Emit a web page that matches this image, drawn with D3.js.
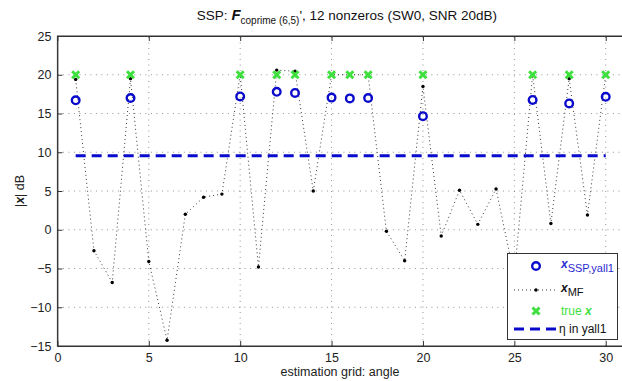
<!DOCTYPE html>
<html>
<head>
<meta charset="utf-8">
<script src="https://cdn.jsdelivr.net/npm/d3@7"></script>
<style>
  body { margin: 0; background: #fff; }
  svg { font-family: "Liberation Sans", Arial, sans-serif; }
  .axis path, .axis line { stroke: #333; }
  .axis text { font-size: 12px; fill: #222; }
</style>
</head>
<body>
<svg id="chart" width="622" height="381"></svg>
<script>
// grid index 1..30
var grid = d3.range(1, 31);
var mfValues = [19.4, -2.7, -6.8, 19.5, -4.1, -14.25, 2.0, 4.2, 4.6, 20.0,
                -4.8, 20.6, 20.45, 5.0, 20.0, 20.0, 20.0, -0.2, -4.0, 18.5,
                -0.8, 5.1, 0.7, 5.25, -6.0, 20.0, 0.8, 19.5, 1.9, 20.0];
var ssp = [1, 4, 10, 12, 13, 15, 16, 17, 20, 26, 28, 30];
var sspValues = [16.7, 17.0, 17.2, 17.8, 17.65, 17.05, 16.95, 17.0, 14.65, 16.75, 16.3, 17.15];
var trueX = [1, 4, 10, 12, 13, 15, 16, 17, 20, 26, 28, 30];
var trueValues = [20, 20, 20, 20, 20, 20, 20, 20, 20, 20, 20, 20];
var eta = 9.55;
var xTicks = [0, 5, 10, 15, 20, 25, 30];
var yTicks = [-15, -10, -5, 0, 5, 10, 15, 20, 25];

var margin = {left: 57.4, top: 36, right: -2, bottom: 35},
    W = 622, H = 381;

var svg = d3.select("#chart");
var x = d3.scaleLinear().domain([0, 31]).range([margin.left, W - margin.right]);
var y = d3.scaleLinear().domain([-15, 25]).range([H - margin.bottom, margin.top]);

var blue = "#0a0acc", green = "#3ee03e";

// grid
var g = svg.append("g");
g.selectAll(".vg").data(xTicks.filter(function(d) { return d > 0; })).enter().append("line")
    .attr("x1", function(d) { return x(d); }).attr("x2", function(d) { return x(d); })
    .attr("y1", y(-15)).attr("y2", y(25))
    .attr("stroke", "#777").attr("stroke-width", 0.8).attr("stroke-dasharray", "1,4.5");
g.selectAll(".hg").data(yTicks.filter(function(d) { return d > -15 && d < 25; })).enter().append("line")
    .attr("x1", x(0)).attr("x2", x(31))
    .attr("y1", function(d) { return y(d); }).attr("y2", function(d) { return y(d); })
    .attr("stroke", "#777").attr("stroke-width", 0.8).attr("stroke-dasharray", "1,4.5");

// axes, ticks inward like matlab
svg.append("g").attr("class", "axis").attr("transform", "translate(0," + y(-15) + ")")
    .call(d3.axisBottom(x).tickValues(xTicks).tickSize(-5).tickPadding(7).tickSizeOuter(0));
svg.append("g").attr("class", "axis").attr("transform", "translate(" + x(0) + ",0)")
    .call(d3.axisLeft(y).tickValues(yTicks).tickSize(-5).tickPadding(6).tickSizeOuter(0)
      .tickFormat(function(d) { return d < 0 ? "\u2212" + Math.abs(d) : d; }));
svg.append("g").attr("class", "axis").attr("transform", "translate(0," + y(25) + ")")
    .call(d3.axisTop(x).tickValues(xTicks).tickSize(-5).tickFormat("").tickSizeOuter(0));
svg.selectAll(".axis text").style("font-size", "12.5px");

// mf dotted line
var mf = grid.map(function(d, i) { return {x: d, v: mfValues[i]}; });
svg.append("path").datum(mf)
    .attr("fill", "none").attr("stroke", "#222").attr("stroke-width", 0.9)
    .attr("stroke-dasharray", "1,3")
    .attr("d", d3.line().x(function(d) { return x(d.x); }).y(function(d) { return y(d.v); }));
svg.selectAll(".mfdot").data(mf).enter().append("circle")
    .attr("cx", function(d) { return x(d.x); }).attr("cy", function(d) { return y(d.v); })
    .attr("r", 1.7).attr("fill", "#000");

// eta threshold
svg.append("line")
    .attr("x1", x(1)).attr("x2", x(30)).attr("y1", y(eta)).attr("y2", y(eta))
    .attr("stroke", blue).attr("stroke-width", 3).attr("stroke-dasharray", "10,6");

// true x markers
svg.selectAll(".tx").data(trueX).enter().append("g")
    .attr("transform", function(d, i) { return "translate(" + x(d) + "," + y(trueValues[i]) + ")"; })
    .each(function() {
      var s = d3.select(this);
      s.append("line").attr("x1", -3.5).attr("y1", -3.5).attr("x2", 3.5).attr("y2", 3.5);
      s.append("line").attr("x1", -3.5).attr("y1", 3.5).attr("x2", 3.5).attr("y2", -3.5);
      s.selectAll("line").attr("stroke", green).attr("stroke-width", 3);
    });

// ssp circles
svg.selectAll(".ssp").data(ssp).enter().append("circle")
    .attr("cx", function(d) { return x(d); }).attr("cy", function(d, i) { return y(sspValues[i]); })
    .attr("r", 3.8).attr("fill", "none").attr("stroke", blue).attr("stroke-width", 2.4);

// frame
svg.append("rect").attr("x", x(0)).attr("y", y(25))
    .attr("width", x(31) - x(0)).attr("height", y(-15) - y(25))
    .attr("fill", "none").attr("stroke", "#333").attr("stroke-width", 1);

// title
var title = svg.append("text").attr("x", 347).attr("y", 20).attr("text-anchor", "middle")
    .style("font-size", "13.5px").attr("fill", "#111");
title.append("tspan").text("SSP: ");
title.append("tspan").text("F").style("font-weight", "bold").style("font-style", "italic").style("font-size", "15px");
title.append("tspan").text("coprime (6,5)").attr("dy", 4).style("font-size", "10px");
title.append("tspan").text("'").attr("dy", -4);
title.append("tspan").text(", 12 nonzeros (SW0, SNR 20dB)");

// axis labels
svg.append("text").attr("x", 340).attr("y", 376).attr("text-anchor", "middle")
    .style("font-size", "12.5px").attr("fill", "#222").text("estimation grid: angle");
var yl = svg.append("text").attr("transform", "translate(24," + y(5) + ") rotate(-90)")
    .attr("text-anchor", "middle").style("font-size", "12.5px").attr("fill", "#222");
yl.append("tspan").text("|");
yl.append("tspan").text("x").style("font-weight", "bold").style("font-style", "italic");
yl.append("tspan").text("| dB");

// legend
var lg = svg.append("g");
lg.append("rect").attr("x", 507.5).attr("y", 253.5).attr("width", 110).attr("height", 86)
    .attr("fill", "#fff").attr("stroke", "#333").attr("stroke-width", 1);
var ly = [266, 290, 311, 329], mx = 536, tx = 561;
lg.append("circle").attr("cx", mx).attr("cy", ly[0]).attr("r", 3.8)
    .attr("fill", "none").attr("stroke", blue).attr("stroke-width", 2.4);
lg.append("line").attr("x1", 514).attr("x2", 558).attr("y1", ly[1]).attr("y2", ly[1])
    .attr("stroke", "#222").attr("stroke-width", 0.9).attr("stroke-dasharray", "1,3");
lg.append("circle").attr("cx", mx).attr("cy", ly[1]).attr("r", 1.7).attr("fill", "#000");
lg.append("line").attr("x1", mx - 3.5).attr("y1", ly[2] - 3.5).attr("x2", mx + 3.5).attr("y2", ly[2] + 3.5)
    .attr("stroke", green).attr("stroke-width", 3);
lg.append("line").attr("x1", mx - 3.5).attr("y1", ly[2] + 3.5).attr("x2", mx + 3.5).attr("y2", ly[2] - 3.5)
    .attr("stroke", green).attr("stroke-width", 3);
lg.append("line").attr("x1", 514).attr("x2", 558).attr("y1", ly[3]).attr("y2", ly[3])
    .attr("stroke", blue).attr("stroke-width", 3).attr("stroke-dasharray", "10,6");

var t0 = lg.append("text").attr("x", tx).attr("y", ly[0] + 2).attr("fill", "#2a2ad0").style("font-size", "12px");
t0.append("tspan").text("x").style("font-weight", "bold").style("font-style", "italic");
t0.append("tspan").text("SSP,yall1").attr("dy", 4).style("font-size", "11px");
var t1 = lg.append("text").attr("x", tx).attr("y", ly[1] + 2).attr("fill", "#111").style("font-size", "12px");
t1.append("tspan").text("x").style("font-weight", "bold").style("font-style", "italic");
t1.append("tspan").text("MF").attr("dy", 4).style("font-size", "11px");
var t2 = lg.append("text").attr("x", tx).attr("y", ly[2] + 4).attr("fill", green).style("font-size", "12px");
t2.append("tspan").text("true ");
t2.append("tspan").text("x").style("font-weight", "bold").style("font-style", "italic");
lg.append("text").attr("x", 559).attr("y", ly[3] + 4).attr("fill", "#111").style("font-size", "12px")
    .text("\u03b7 in yall1");
</script>
</body>
</html>
